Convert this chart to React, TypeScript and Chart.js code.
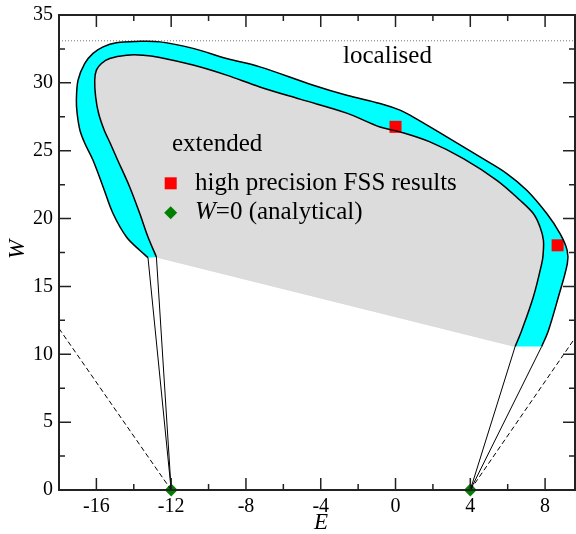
import React, { useEffect, useRef } from "react";
import { Chart, registerables } from "chart.js";
Chart.register(...registerables);

// ---- data (E, W) ----
const outerE = [-13.24, -13.68, -14.39, -15.11, -15.64, -16.18, -16.62, -16.88, -17.03, -17.07, -16.98, -16.62, -16.18, -15.64, -14.93, -13.86, -12.61, -10.83, -9.04, -7.26, -4.4, -2.61, -0.83, 0.24, 0.93, 2.74, 4.52, 5.95, 7.02, 8.09, 8.8, 9.18, 9.19, 8.71, 8.18, 7.82];
const outerW = [17.12, 17.66, 18.64, 20.37, 22.33, 24.3, 25.55, 26.51, 27.74, 28.72, 30.2, 31.43, 32.17, 32.65, 32.95, 33.05, 33.02, 32.54, 31.8, 31.18, 29.83, 29.09, 28.48, 27.99, 27.49, 26.02, 24.54, 23.32, 22.09, 20.37, 18.89, 17.66, 16.68, 14.22, 11.76, 10.58];
const innerE = [-12.79, -13.24, -13.68, -14.22, -14.86, -15.26, -15.58, -15.88, -16.04, -16.09, -16.0, -15.73, -15.29, -14.39, -13.5, -12.61, -10.83, -9.04, -7.26, -5.11, -2.61, -0.83, 0.24, 1.84, 3.63, 5.42, 6.66, 7.37, 7.73, 7.91, 7.89, 7.82, 7.37, 6.75, 6.4];
const innerW = [17.17, 18.64, 20.37, 22.33, 24.3, 25.55, 26.51, 27.74, 28.97, 30.2, 30.94, 31.43, 31.8, 32.04, 32.04, 31.87, 31.31, 30.57, 29.7, 28.8, 27.77, 26.75, 26.39, 25.65, 24.42, 22.82, 21.35, 20.37, 19.38, 18.4, 17.29, 16.68, 14.22, 11.76, 10.58];
const fssE = [0, 8.67];
const fssW = [26.76, 18.03];
const analyticE = [-12, 4];
const analyticW = [0, 0];
const dashLeftE = [-18, -12];
const dashLeftW = [11.9, 0];
const dashRightE = [4, 9.6];
const dashRightW = [0, 11.2];
const localisedW = 33.1;
const X_MIN = -18;
const X_MAX = 9.6;
const Y_MIN = 0;
const Y_MAX = 35;
const xMajorStep = 4;
const xMinorStep = 2;
const yMajorStep = 5;
const yMinorStep = 2.5;

const FONT = "'Liberation Serif', 'Times New Roman', serif";

const pts = (xs: number[], ys: number[]) => xs.map((x, i) => ({ x, y: ys[i] }));

const regionPlugin = {
  id: "regions",
  beforeDatasetsDraw(chart: any) {
    const ctx = chart.ctx;
    const area = chart.chartArea;
    const outer = chart.getDatasetMeta(0).dataset;
    const inner = chart.getDatasetMeta(1).dataset;
    outer.updateControlPoints(area, "x");
    inner.updateControlPoints(area, "x");
    const ip = inner.points;
    const p0 = ip[0];
    const pN = ip[ip.length - 1];
    ctx.save();
    ctx.beginPath();
    ctx.rect(area.left, area.top, area.right - area.left, area.bottom - area.top);
    ctx.clip();
    ctx.beginPath();
    outer.path(ctx);
    ctx.lineTo(pN.x, pN.y);
    ctx.lineTo(p0.x, p0.y);
    ctx.closePath();
    ctx.fillStyle = "#00ffff";
    ctx.fill();
    ctx.beginPath();
    inner.path(ctx);
    ctx.closePath();
    ctx.fillStyle = "#dcdcdc";
    ctx.fill();
    ctx.beginPath();
    ctx.moveTo(pN.x, pN.y);
    ctx.lineTo(p0.x, p0.y);
    ctx.strokeStyle = "#dcdcdc";
    ctx.lineWidth = 1.2;
    ctx.stroke();
    ctx.restore();
  },
};

const textPlugin = {
  id: "texts",
  afterDatasetsDraw(chart: any) {
    const ctx = chart.ctx;
    ctx.save();
    ctx.fillStyle = "#000";
    ctx.textBaseline = "alphabetic";
    ctx.font = `25px ${FONT}`;
    ctx.textAlign = "center";
    ctx.fillText("localised", 387.5, 62.5);
    ctx.textAlign = "left";
    ctx.fillText("extended", 172, 150.5);
    ctx.fillText("high precision FSS results", 195, 190);
    ctx.font = `italic 25px ${FONT}`;
    ctx.fillText("W", 195, 219);
    const w = ctx.measureText("W").width;
    ctx.font = `25px ${FONT}`;
    ctx.fillText("=0 (analytical)", 195 + w, 219);
    // legend symbols
    ctx.fillStyle = "#ff0000";
    ctx.fillRect(170.7 - 6, 183.3 - 6, 12, 12);
    ctx.fillStyle = "#008000";
    ctx.beginPath();
    ctx.moveTo(170.7, 212.7 - 6.5);
    ctx.lineTo(170.7 + 6.5, 212.7);
    ctx.lineTo(170.7, 212.7 + 6.5);
    ctx.lineTo(170.7 - 6.5, 212.7);
    ctx.closePath();
    ctx.fill();
    ctx.restore();
  },
  afterDraw(chart: any) {
    const ctx = chart.ctx;
    const a = chart.chartArea;
    const x = chart.scales.x;
    const y = chart.scales.y;
    ctx.save();
    ctx.strokeStyle = "#222";
    ctx.lineWidth = 1.5;
    const eps = 1e-6;
    for (let v = Math.ceil(X_MIN / xMinorStep) * xMinorStep; v <= X_MAX + eps; v += xMinorStep) {
      if (Math.abs(v - X_MIN) < eps) continue;
      const px = x.getPixelForValue(v);
      const major = Math.abs(v / xMajorStep - Math.round(v / xMajorStep)) < eps;
      const len = major ? 12 : 6;
      ctx.beginPath();
      ctx.moveTo(px, a.bottom);
      ctx.lineTo(px, a.bottom - len);
      ctx.moveTo(px, a.top);
      ctx.lineTo(px, a.top + len);
      ctx.stroke();
    }
    for (let v = Y_MIN + yMinorStep; v < Y_MAX - eps; v += yMinorStep) {
      const py = y.getPixelForValue(v);
      const major = Math.abs(v / yMajorStep - Math.round(v / yMajorStep)) < eps;
      const len = major ? 12 : 6;
      ctx.beginPath();
      ctx.moveTo(a.left, py);
      ctx.lineTo(a.left + len, py);
      ctx.moveTo(a.right, py);
      ctx.lineTo(a.right - len, py);
      ctx.stroke();
    }
    ctx.lineWidth = 2;
    ctx.strokeRect(a.left, a.top, a.right - a.left, a.bottom - a.top);
    // axis titles
    ctx.fillStyle = "#000";
    ctx.font = `italic 23px ${FONT}`;
    ctx.textAlign = "center";
    ctx.textBaseline = "middle";
    ctx.fillText("E", (a.left + a.right) / 2 + 4, 523);
    ctx.save();
    ctx.translate(18, (a.top + a.bottom) / 2 - 3);
    ctx.rotate(-Math.PI / 2);
    ctx.fillText("W", 0, 0);
    ctx.restore();
    ctx.restore();
  },
};

export default function App() {
  const ref = useRef<HTMLCanvasElement | null>(null);
  useEffect(() => {
    document.body.style.margin = "0";
    const canvas = ref.current!;
    const lineDs = (data: any[], extra: any = {}) => ({
      data,
      showLine: true,
      borderColor: "#000",
      borderWidth: 1,
      pointRadius: 0,
      pointHoverRadius: 0,
      fill: false,
      tension: 0,
      ...extra,
    });
    const chart = new Chart(canvas, {
      type: "scatter",
      data: {
        datasets: [
          lineDs(pts(outerE, outerW), { borderWidth: 1.5, tension: 0.35 }),
          lineDs(pts(innerE, innerW), { borderWidth: 1.5, tension: 0.35 }),
          lineDs([
            { x: outerE[0], y: outerW[0] },
            { x: analyticE[0], y: analyticW[0] },
            { x: innerE[0], y: innerW[0] },
          ]),
          lineDs([
            { x: innerE[innerE.length - 1], y: innerW[innerW.length - 1] },
            { x: analyticE[1], y: analyticW[1] },
            { x: outerE[outerE.length - 1], y: outerW[outerW.length - 1] },
          ]),
          lineDs(pts(dashLeftE, dashLeftW), { borderDash: [5, 3] }),
          lineDs(pts(dashRightE, dashRightW), { borderDash: [5, 3] }),
          lineDs([
            { x: X_MIN, y: localisedW },
            { x: X_MAX, y: localisedW },
          ], { borderDash: [1, 2], borderColor: "#777" }),
          {
            data: pts(fssE, fssW),
            showLine: false,
            pointStyle: "rect",
            pointRadius: 8.5,
            pointBackgroundColor: "#ff0000",
            pointBorderWidth: 0,
            pointBorderColor: "#ff0000",
          },
          {
            data: pts(analyticE, analyticW),
            showLine: false,
            pointStyle: "rectRot",
            pointRadius: 6.5,
            pointBackgroundColor: "#008000",
            pointBorderWidth: 0,
            pointBorderColor: "#008000",
            clip: false,
          },
        ],
      },
      options: {
        animation: false,
        responsive: false,
        devicePixelRatio: 1,
        layout: { autoPadding: false, padding: { top: 15, right: 1, left: 0, bottom: 0 } },
        plugins: { legend: { display: false }, tooltip: { enabled: false } },
        scales: {
          x: {
            type: "linear",
            min: X_MIN,
            max: X_MAX,
            grid: { display: false, drawTicks: false },
            border: { display: false },
            ticks: {
              stepSize: xMajorStep,
              includeBounds: false,
              color: "#000",
              padding: 5,
              font: { family: FONT, size: 20 },
              maxRotation: 0,
            },
            afterFit: (s: any) => {
              s.height = 44;
              s.paddingLeft = 0;
              s.paddingRight = 0;
            },
          },
          y: {
            type: "linear",
            min: Y_MIN,
            max: Y_MAX,
            grid: { display: false, drawTicks: false },
            border: { display: false },
            ticks: {
              stepSize: yMajorStep,
              color: "#000",
              padding: 6,
              font: { family: FONT, size: 20 },
            },
            afterFit: (s: any) => {
              s.width = 59;
              s.paddingTop = 0;
              s.paddingBottom = 0;
            },
          },
        },
      },
      plugins: [regionPlugin, textPlugin],
    });
    return () => chart.destroy();
  }, []);
  return (
    <div style={{ position: "absolute", left: 0, top: 0, width: 576, height: 534 }}>
      <canvas ref={ref} width={576} height={534} style={{ display: "block", width: 576, height: 534 }} />
    </div>
  );
}
